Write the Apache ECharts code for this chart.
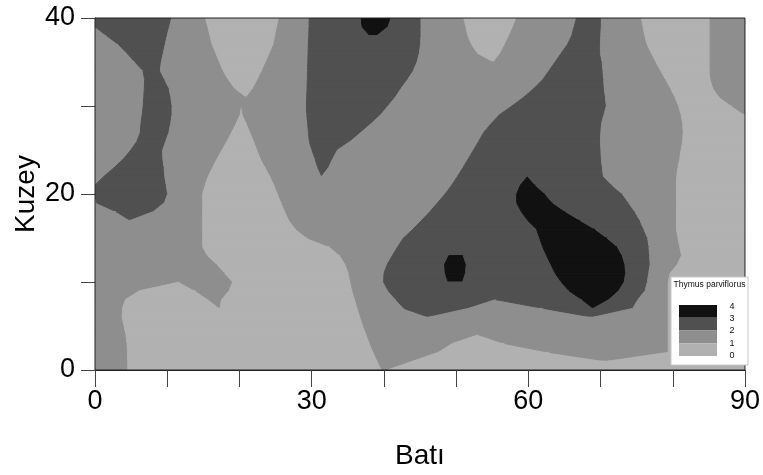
<!DOCTYPE html>
<html>
<head>
<meta charset="utf-8">
<script src="https://cdn.jsdelivr.net/npm/echarts@6/dist/echarts.min.js"></script>
<style>html,body{margin:0;padding:0;background:#fff}#c{width:763px;height:475px}</style>
</head>
<body>
<div id="c"></div>
<script>
// ---- data ----
const xTickLabels = [0, 30, 60, 90];
const yTickLabels = [0, 20, 40];
const xName = 'Batı';
const yName = 'Kuzey';
const legendTitle = 'Thymus parviflorus';
const legendBreaks = ['4', '3', '2', '1', '0'];
// contour class bands, one entry per 1-unit row (top row y=39..40 first).
// Each run: "class:xEndAtRowTop/xEndAtRowBottom" (single value when equal).
const bandRows = [
  '2:10.63/10.31 1:15.32/15.62 0:25.54/25.24 1:29.66/29.64 2:36.86/36.98 3:41.00/40.57 2:45.14 1:51.07/51.35 0:58.39/57.91 1:66.67/66.34 2:70.12/70.1 1:75.65/75.89 0:85.17 1:90',
  '1:0/1.59 2:10.31/10.0 1:15.62/15.92 0:25.24/25.0 1:29.64/29.6 2:36.98/38.03 3:40.57/39.06 2:45.14 1:51.35/51.63 0:57.91/57.37 1:66.34/66.01 2:70.1/70.03 1:75.89/76.13 0:85.17 1:90',
  '1:1.59/3.24 2:10.0/9.72 1:15.92/16.23 0:25.0/24.76 1:29.6/29.54 2:45.14/45.07 1:51.63/52.15 0:57.37/56.77 1:66.01/65.42 2:70.03/69.98 1:76.13/76.45 0:85.17 1:90',
  '1:3.24/4.42 2:9.72/9.46 1:16.23/16.74 0:24.76/24.25 1:29.54/29.5 2:45.07/44.92 1:52.15/52.95 0:56.77/56.15 1:65.42/64.56 2:69.98 1:76.45/77.05 0:85.17 1:90',
  '1:4.42/5.54 2:9.46/9.19 1:16.74/17.23 0:24.25/23.7 1:29.5/29.47 2:44.92/44.59 1:52.95/55.22 0:56.15/55.22 1:64.56/63.71 2:69.98/70.22 1:77.05/77.67 0:85.17 1:90',
  '1:5.54/6.65 2:9.19/9.04 1:17.23/17.74 0:23.7/23.14 1:29.47/29.43 2:44.59/44.09 1:63.71/62.86 2:70.22/70.33 1:77.67/78.33 0:85.17 1:90',
  '1:6.65/6.87 2:9.04/9.65 1:17.74/18.47 0:23.14/22.55 1:29.43/29.4 2:44.09/43.29 1:62.86/62.0 2:70.33/70.44 1:78.33/79.03 0:85.17/85.29 1:90',
  '1:6.87/6.83 2:9.65/10.26 1:18.47/19.36 0:22.55/21.91 1:29.4/29.36 2:43.29/42.39 1:62.0/60.78 2:70.44/70.51 1:79.03/79.71 0:85.29/85.67 1:90',
  '1:6.83/6.75 2:10.26/10.5 1:19.36/20.98 0:21.91/20.98 1:29.36/29.31 2:42.39/41.59 1:60.78/59.37 2:70.51/70.68 1:79.71/80.31 0:85.67/86.51 1:90',
  '1:6.75/6.67 2:10.5/10.68 1:29.31/29.28 2:41.59/40.58 1:59.37/57.73 2:70.68/70.8 1:80.31/80.81 0:86.51/88.2 1:90',
  '1:6.67/6.54 2:10.68/10.66 1:20.3/20.1 0:20.3/20.48 1:29.28/29.33 2:40.58/39.56 1:57.73/56.0 2:70.8/70.47 1:80.81/81.15 0:88.2/90 1:90',
  '1:6.54/6.36 2:10.66/10.48 1:20.1/19.53 0:20.48/21.05 1:29.33/29.45 2:39.56/38.25 1:56.0/54.86 2:70.47/70.14 1:81.15/81.38 0:90',
  '1:6.36/6.28 2:10.48/10.23 1:19.53/18.93 0:21.05/21.56 1:29.45/29.56 2:38.25/36.84 1:54.86/53.83 2:70.14/70.04 1:81.38/81.44 0:90',
  '1:6.28/5.81 2:10.23/9.8 1:18.93/18.29 0:21.56/22.06 1:29.56/29.67 2:36.84/35.39 1:53.83/53.14 2:70.04/69.98 1:81.44/81.38 0:90',
  '1:5.81/4.97 2:9.8/9.37 1:18.29/17.59 0:22.06/22.53 1:29.67/30.04 2:35.39/33.58 1:53.14/52.42 2:69.98/70.05 1:81.38/81.15 0:90',
  '1:4.97/3.96 2:9.37/9.39 1:17.59/16.91 0:22.53/23.01 1:30.04/30.47 2:33.58/32.92 1:52.42/51.69 2:70.05/70.11 1:81.15/80.97 0:90',
  '1:3.96/2.66 2:9.39/9.57 1:16.91/16.29 0:23.01/23.66 1:30.47/30.85 2:32.92/32.34 1:51.69/50.96 2:70.11/70.25 1:80.97/80.72 0:90',
  '1:2.66/1.23 2:9.57/9.66 1:16.29/15.68 0:23.66/24.33 1:30.85/31.4 2:32.34/31.4 1:50.96/50.19 2:70.25/70.4 1:80.72/80.55 0:90',
  '1:1.23/0 2:9.66/9.87 1:15.68/15.25 0:24.33/24.89 1:50.19/49.39 2:59.9/58.9 3:59.9/61.0 2:70.4/71.59 1:80.55/80.52 0:90',
  '2:9.87/10.06 1:15.25/14.91 0:24.89/25.37 1:49.39/48.48 2:58.9/58.39 3:61.0/62.32 2:71.59/73.04 1:80.52 0:90',
  '1:0/0.22 2:10.06/9.61 1:14.91 0:25.37/25.86 1:48.48/47.44 2:58.39 3:62.32/63.36 2:73.04/73.89 1:80.52 0:90',
  '1:0.22/2.9 2:9.61/8.09 1:14.91 0:25.86/26.37 1:47.44/46.38 2:58.39/59.03 3:63.36/65.13 2:73.89/74.75 1:80.52 0:90',
  '1:2.9/4.9 2:8.09/4.9 1:14.91 0:26.37/26.95 1:46.38/45.22 2:59.03/59.91 3:65.13/67.17 2:74.75/75.47 1:80.52 0:90',
  '1:14.91 0:26.95/27.84 1:45.22/44.03 2:59.91/61.14 3:67.17/69.24 2:75.47/76.0 1:80.52 0:90',
  '1:14.91 0:27.84/29.43 1:44.03/42.72 2:61.14/61.57 3:69.24/70.9 2:76.0/76.53 1:80.52/80.72 0:90',
  '1:14.91 0:29.43/32.51 1:42.72/41.91 2:61.57/61.99 3:70.9/72.32 2:76.53/76.7 1:80.72/80.97 0:90',
  '1:14.91/15.56 0:32.51/33.96 1:41.91/41.18 2:61.99/62.53 3:72.32/73.01 2:76.7/76.8 1:80.97/81.22 0:90',
  '1:15.56/16.91 0:33.96/34.73 1:41.18/40.46 2:49.0/48.4 3:51.0/51.4 2:62.53/63.13 3:73.01/73.37 2:76.8/76.87 1:81.22/80.62 0:90',
  '1:16.91/17.97 0:34.73/35.17 1:40.46/40.02 2:48.4/48.5 3:51.4/51.3 2:63.13/63.71 3:73.37/73.48 2:76.87/76.67 1:80.62/79.64 0:90',
  '1:17.97/19.05 0:35.17/35.41 1:40.02/39.96 2:48.5/48.9 3:51.3/50.9 2:63.71/64.57 3:73.48/73.27 2:76.67/76.49 1:79.64/79.37 0:90',
  '1:11.7/6.16 0:11.7/13.93 1:19.05/18.57 0:35.41/35.68 1:39.96/40.61 2:64.57/65.62 3:73.27/72.52 2:76.49/76.16 1:79.37 0:90',
  '1:6.16/4.22 0:13.93/15.73 1:18.57/17.53 0:35.68/36.05 1:40.61/41.67 2:65.62/67.43 3:72.52/71.17 2:76.16/75.18 1:79.37 0:90',
  '1:4.22/3.81 0:15.73/17.3 1:17.53/17.3 0:36.05/36.41 1:41.67/42.78 2:55.5/51.71 1:55.5/62.08 2:67.43/69.0 3:71.17/69.0 2:75.18/74.46 1:79.37 0:90',
  '1:3.81/3.75 0:36.41/36.79 1:42.78/46.24 2:51.71/46.24 1:62.08/69.0 2:74.46/69.0 1:79.37 0:90',
  '1:3.75/4.03 0:36.79/37.19 1:79.37 0:90',
  '1:4.03/4.29 0:37.19/37.64 1:79.37 0:90',
  '1:4.29/4.44 0:37.64/38.1 1:53.1/49.47 0:53.1/56.73 1:79.37 0:90',
  '1:4.44/4.5 0:38.1/38.6 1:49.47/47.54 0:56.73/62.89 1:79.37 0:90',
  '1:4.5/4.53 0:38.6/39.18 1:47.54/43.99 0:62.89/71 1:79.37/71 0:90',
  '1:4.53/4.56 0:39.18/39.75 1:43.99/40.5 0:90'
];
// ---- styles ----
const levelColors = ['#b1b1b1', '#8e8e8e', '#505050', '#111111'];
const FONT = "'Liberation Sans', Arial, sans-serif";

const cells = [];
bandRows.forEach((row, i) => {
  const y = bandRows.length - 1 - i;
  let t0 = 0, b0 = 0;
  row.trim().split(/\s+/).forEach(tok => {
    const [lv, ends] = tok.split(':');
    const parts = ends.split('/').map(Number);
    const t1 = parts[0], b1 = parts.length > 1 ? parts[1] : parts[0];
    cells.push([t0, t1, b0, b1, y, Number(lv)]);
    t0 = t1; b0 = b1;
  });
});

function renderItem(params, api) {
  const y = api.value(4);
  const p = [
    api.coord([api.value(0), y + 1]),
    api.coord([api.value(1), y + 1]),
    api.coord([api.value(3), y]),
    api.coord([api.value(2), y])
  ];
  const c = levelColors[api.value(5)];
  return {
    type: 'polygon',
    shape: { points: p },
    style: { fill: c, stroke: c, lineWidth: 1, lineJoin: 'bevel' }
  };
}

const LX = 671, LY = 277;
const legendItems = [];
legendItems.push({ type: 'rect', z: 100, shape: { x: LX, y: LY, width: 77, height: 88 }, style: { fill: '#fff', stroke: '#c8c8c8', lineWidth: 1 } });
legendItems.push({ type: 'text', z: 101, x: LX + 38.5, y: LY + 8, style: { text: legendTitle, font: "8.5px " + FONT, fill: '#111', align: 'center', verticalAlign: 'middle' } });
for (let i = 0; i < 4; i++) {
  legendItems.push({ type: 'rect', z: 101, shape: { x: LX + 8, y: LY + 28 + i * 12.75, width: 38, height: 12.75 }, style: { fill: levelColors[3 - i] } });
}
legendBreaks.forEach((t, i) => {
  legendItems.push({ type: 'text', z: 101, x: LX + 61, y: LY + 29.5 + i * 12.2, style: { text: t, font: "9px " + FONT, fill: '#111', align: 'center', verticalAlign: 'middle' } });
});

const chart = echarts.init(document.getElementById('c'), null, { renderer: 'canvas' });
chart.setOption({
  animation: false,
  backgroundColor: '#fff',
  grid: { left: 95, right: 16, top: 18, bottom: 104, show: true, borderColor: '#222', borderWidth: 1, backgroundColor: 'transparent', z: 3 },
  xAxis: {
    type: 'value', min: 0, max: 90, interval: 10,
    name: xName, nameLocation: 'middle', nameGap: 72, nameMoveOverlap: false,
    nameTextStyle: { fontSize: 28, color: '#000', fontFamily: FONT },
    axisLine: { show: true, lineStyle: { color: '#222', width: 1 } },
    axisTick: { show: true, length: 17, lineStyle: { color: '#444', width: 1 } },
    axisLabel: { margin: 18, fontSize: 27, color: '#000', fontFamily: FONT, formatter: v => xTickLabels.includes(v) ? String(v) : '' },
    splitLine: { show: false }
  },
  yAxis: {
    type: 'value', min: 0, max: 40, interval: 10,
    name: yName, nameLocation: 'middle', nameGap: 55, nameRotate: 90, nameMoveOverlap: false,
    nameTextStyle: { fontSize: 28, color: '#000', fontFamily: FONT },
    axisLine: { show: true, lineStyle: { color: '#222', width: 1 } },
    axisTick: { show: true, length: 14, lineStyle: { color: '#444', width: 1 } },
    axisLabel: { margin: 20, fontSize: 27, color: '#000', fontFamily: FONT, formatter: v => yTickLabels.includes(v) ? String(v) : '' },
    splitLine: { show: false }
  },
  series: [{
    type: 'custom',
    renderItem: renderItem,
    clip: true,
    z: 2,
    encode: { x: [0, 1, 2, 3], y: 4 },
    data: cells,
    silent: true
  }],
  graphic: legendItems
});
</script>
</body>
</html>
